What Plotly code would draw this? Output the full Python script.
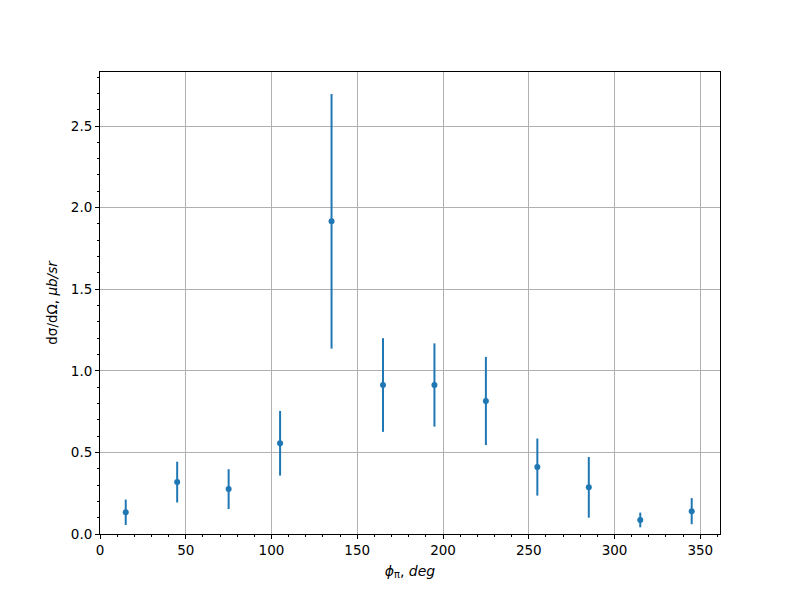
import plotly.graph_objects as go

phi = [15, 45, 75, 105, 135, 165, 195, 225, 255, 285, 315, 345]
xsec = [0.133, 0.318, 0.275, 0.556, 1.916, 0.913, 0.913, 0.815, 0.410, 0.286, 0.086, 0.140]
err = [0.078, 0.125, 0.122, 0.198, 0.780, 0.287, 0.255, 0.270, 0.175, 0.186, 0.045, 0.080]

x_ticks = [0, 50, 100, 150, 200, 250, 300, 350]
y_ticks = [0.0, 0.5, 1.0, 1.5, 2.0, 2.5]

color = "#1f77b4"

fig = go.Figure()
fig.add_trace(go.Scatter(
    x=phi, y=xsec, mode="markers",
    marker=dict(color=color, size=6),
    error_y=dict(type="data", array=err, visible=True, color=color,
                 thickness=2, width=0),
    showlegend=False,
))

axis_common = dict(
    showline=True, linecolor="black", linewidth=1, mirror=True,
    ticks="outside", ticklen=4, tickwidth=1, tickcolor="black",
    showgrid=True, gridcolor="#b0b0b0", gridwidth=1,
    zeroline=False,
    tickfont=dict(family="DejaVu Sans", size=13.5, color="black"),
)

fig.update_layout(
    width=800, height=600,
    paper_bgcolor="white", plot_bgcolor="white",
    margin=dict(l=92, r=88, t=64, b=74),
    font=dict(family="DejaVu Sans", size=13.5, color="black"),
    xaxis=dict(
        range=[0, 361.5], tickvals=x_ticks, ticktext=[str(v) for v in x_ticks],
        minor=dict(dtick=10, tick0=0, ticks="outside", ticklen=2, tickcolor="black", showgrid=False),
        title=dict(text="<i>ϕ</i><sub>π</sub>, <i>deg</i>", standoff=8,
                   font=dict(family="DejaVu Sans", size=14)),
        **axis_common,
    ),
    yaxis=dict(
        range=[0, 2.831], tickvals=y_ticks, ticktext=[f"{v:.1f}" for v in y_ticks],
        minor=dict(dtick=0.1, tick0=0, ticks="outside", ticklen=2, tickcolor="black", showgrid=False),
        title=dict(text="dσ/dΩ, <i>μb/sr</i>", standoff=10,
                   font=dict(family="DejaVu Sans", size=13.5)),
        **axis_common,
    ),
)

fig.write_html("out.html")
